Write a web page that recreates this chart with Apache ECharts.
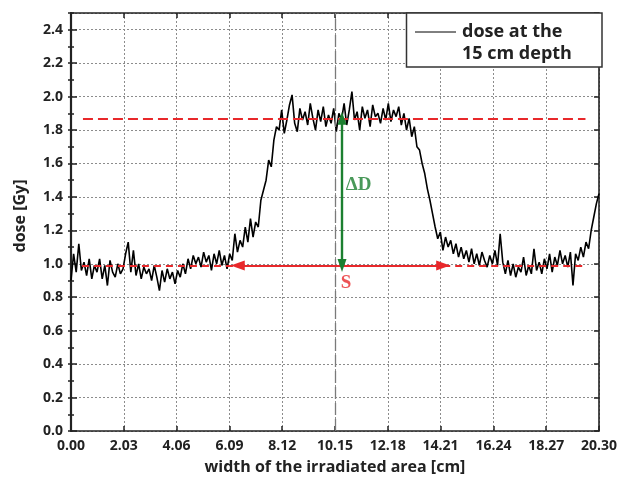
<!DOCTYPE html>
<html>
<head>
<meta charset="utf-8">
<script src="https://cdn.jsdelivr.net/npm/echarts@6/dist/echarts.min.js"></script>
<style>
html,body{margin:0;padding:0;background:#fff;}
#chart{width:620px;height:486px;}
</style>
</head>
<body>
<div id="chart"></div>
<script>
// ---- data ----
const doseX = [
 0.0,0.1,0.2,0.3,0.4,0.5,0.6,0.7,0.8,0.9,
 1.0,1.1,1.2,1.3,1.4,1.5,1.6,1.7,1.8,1.9,
 2.0,2.1,2.2,2.3,2.4,2.5,2.6,2.7,2.8,2.9,
 3.0,3.1,3.2,3.3,3.4,3.5,3.6,3.7,3.8,3.9,
 4.0,4.1,4.2,4.3,4.4,4.5,4.6,4.7,4.8,4.9,
 5.0,5.1,5.2,5.3,5.4,5.5,5.6,5.7,5.8,5.9,
 6.0,6.1,6.2,6.3,6.4,6.5,6.6,6.7,6.8,6.9,
 7.0,7.1,7.2,7.3,7.4,7.5,7.6,7.7,7.8,7.9,
 8.0,8.1,8.2,8.3,8.4,8.5,8.6,8.7,8.8,8.9,
 9.0,9.1,9.2,9.3,9.4,9.5,9.6,9.7,9.8,9.9,
 10.0,10.1,10.2,10.3,10.4,10.5,10.6,10.7,10.8,10.9,
 11.0,11.1,11.2,11.3,11.4,11.5,11.6,11.7,11.8,11.9,
 12.0,12.1,12.2,12.3,12.4,12.5,12.6,12.7,12.8,12.9,
 13.0,13.1,13.2,13.3,13.4,13.5,13.6,13.7,13.8,13.9,
 14.0,14.1,14.2,14.3,14.4,14.5,14.6,14.7,14.8,14.9,
 15.0,15.1,15.2,15.3,15.4,15.5,15.6,15.7,15.8,15.9,
 16.0,16.1,16.2,16.3,16.4,16.5,16.6,16.7,16.8,16.9,
 17.0,17.1,17.2,17.3,17.4,17.5,17.6,17.7,17.8,17.9,
 18.0,18.1,18.2,18.3,18.4,18.5,18.6,18.7,18.8,18.9,
 19.0,19.1,19.2,19.3,19.4,19.5,19.6,19.7,19.8,19.9,
 20.0,20.1,20.2,20.3
];
const doseY = [
 0.90,1.06,0.95,1.12,0.96,1.01,0.93,1.03,0.91,0.99,
 0.95,1.03,0.91,0.99,0.87,1.02,0.95,0.92,1.00,0.94,
 0.97,1.06,1.13,0.95,1.08,0.93,1.00,0.91,0.98,0.94,
 0.97,0.90,0.99,0.92,0.84,0.96,0.89,0.97,0.91,0.95,
 0.88,0.96,0.92,1.00,0.94,1.03,0.97,1.05,1.00,1.04,
 0.98,1.07,1.01,1.05,0.96,1.06,1.00,1.08,0.99,1.05,
 0.97,1.06,1.02,1.18,1.07,1.14,1.10,1.22,1.13,1.27,
 1.16,1.25,1.22,1.38,1.44,1.50,1.62,1.58,1.74,1.82,
 1.80,1.92,1.78,1.86,1.95,2.01,1.84,1.79,1.93,1.86,
 1.91,1.83,1.96,1.87,1.80,1.92,1.85,1.94,1.82,1.89,
 1.84,1.93,1.79,1.90,1.86,1.96,1.83,1.92,2.03,1.86,
 1.91,1.80,1.94,1.87,1.92,1.82,1.95,1.88,1.90,1.84,
 1.93,1.86,1.96,1.85,1.92,1.88,1.94,1.83,1.90,1.80,
 1.87,1.76,1.82,1.70,1.68,1.60,1.54,1.45,1.38,1.30,
 1.22,1.15,1.19,1.08,1.16,1.10,1.14,1.06,1.12,1.04,
 1.10,1.03,1.08,1.01,1.09,1.00,1.06,0.99,1.07,1.02,
 0.98,1.05,1.00,1.08,0.99,1.18,1.01,0.94,1.02,0.93,
 1.00,0.92,0.98,0.95,1.04,0.93,0.99,0.94,1.09,0.96,
 1.01,0.94,1.03,0.97,1.06,0.95,1.04,0.99,1.08,1.00,
 1.05,0.98,1.07,0.87,1.06,1.02,1.10,1.04,1.13,1.09,
 1.20,1.28,1.36,1.42
];
const xTickStep = 2.03;
const xMax = 20.3;
const yTickStep = 0.2;
const yMinorStep = 0.1;
const yMax = 2.5;

const refLevel = 1.87;          // red dashed upper level
const refFrom = 0.46, refTo = 19.78;
const baseLevel = 0.99;         // red dashed lower level / S arrow
const baseLeftFrom = 0.42, baseRightTo = 19.72;
const sFrom = 6.41, sTo = 14.31; // S arrow
const dDx = 10.42;               // ΔD arrow x
const centerX = 10.15;           // central dashed line

const annoX = [11.06, 10.57];
const annoY = [1.47, 0.885];
const annoText = ['ΔD', 'S'];
const annoColor = ['#1c8030', '#e8282b'];

const legendLines = ['dose at the', '15 cm depth'];
const xName = 'width of the irradiated area [cm]';
const yName = 'dose [Gy]';

// ---- chart ----
const RED = '#e8282b', GREEN = '#1c8030';
const FONT = '"Open Sans", "Noto Sans", sans-serif';
const chart = echarts.init(document.getElementById('chart'), null, {renderer: 'canvas'});

const gridLine = {show: true, lineStyle: {color: '#8c8c8c', width: 1, type: [2, 2]}};
const frame = {show: true, onZero: false, lineStyle: {color: '#222', width: 1.6}};

const profile = doseX.map((x, i) => [x, doseY[i]]);
const annos = annoX.map((x, i) => ({
  value: [x, annoY[i]],
  label: {show: true, formatter: annoText[i], color: annoColor[i]}
}));

const option = {
  animation: false,
  backgroundColor: '#fff',
  grid: {left: 71, right: 18, top: 13, bottom: 55, show: false},
  xAxis: [
    {
      type: 'value', position: 'bottom', min: 0, max: xMax, interval: xTickStep,
      name: xName, nameLocation: 'middle', nameGap: 28,
      nameTextStyle: {fontFamily: FONT, fontWeight: 'bold', fontSize: 16, color: '#222'},
      axisLine: frame,
      axisTick: {show: true, inside: true, length: 5, lineStyle: {color: '#222', width: 1.5}},
      axisLabel: {margin: 8, fontFamily: FONT, fontWeight: 'bold', fontSize: 14, color: '#222',
                  formatter: v => v.toFixed(2)},
      splitLine: gridLine
    },
    {
      type: 'value', position: 'top', min: 0, max: xMax, interval: xTickStep,
      axisLine: frame,
      axisTick: {show: true, inside: true, length: 5, lineStyle: {color: '#222', width: 1.5}},
      axisLabel: {show: false}, splitLine: {show: false}
    }
  ],
  yAxis: [
    {
      type: 'value', position: 'left', min: 0, max: yMax, interval: yTickStep,
      name: yName, nameLocation: 'middle', nameGap: 43, nameRotate: 90,
      nameTextStyle: {fontFamily: FONT, fontWeight: 'bold', fontSize: 16, color: '#222', padding: [0, 0, 0, 12]},
      axisLine: {show: true, onZero: false, lineStyle: {color: '#222', width: 2.2}},
      axisTick: {show: true, inside: true, length: 6, lineStyle: {color: '#222', width: 1.5}},
      axisLabel: {margin: 8, fontFamily: FONT, fontWeight: 'bold', fontSize: 14, color: '#222',
                  showMaxLabel: false, formatter: v => v.toFixed(1)},
      splitLine: gridLine
    },
    {
      type: 'value', position: 'left', min: 0, max: yMax, interval: yMinorStep,
      axisLine: {show: false},
      axisTick: {show: true, inside: true, length: 3, lineStyle: {color: '#222', width: 1.5}},
      axisLabel: {show: false}, splitLine: {show: false}
    },
    {
      type: 'value', position: 'right', min: 0, max: yMax, interval: yTickStep,
      axisLine: frame,
      axisTick: {show: true, inside: true, length: 5, lineStyle: {color: '#222', width: 1.5}},
      axisLabel: {show: false}, splitLine: {show: false}
    },
    {
      type: 'value', position: 'right', min: 0, max: yMax, interval: yMinorStep,
      axisLine: {show: false},
      axisTick: {show: true, inside: true, length: 3, lineStyle: {color: '#222', width: 1.5}},
      axisLabel: {show: false}, splitLine: {show: false}
    }
  ],
  series: [
    {
      // central dashed reference line
      type: 'line', data: [], z: 1, silent: true,
      markLine: {
        silent: true, symbol: 'none', animation: false, label: {show: false},
        lineStyle: {color: '#7a7a7a', width: 1.3, type: [12, 4]},
        data: [{xAxis: centerX}]
      }
    },
    {
      name: 'dose at the 15 cm depth', type: 'line', data: profile, z: 2,
      showSymbol: false, symbol: 'none', smooth: false,
      lineStyle: {color: '#000', width: 1.6}
    },
    {
      type: 'line', data: [], z: 3, silent: true,
      markLine: {
        silent: true, animation: false, label: {show: false},
        data: [
          [{coord: [refFrom, refLevel], symbol: 'none', lineStyle: {color: RED, width: 2, type: [10, 5]}},
           {coord: [refTo, refLevel], symbol: 'none'}],
          [{coord: [baseLeftFrom, baseLevel], symbol: 'none', lineStyle: {color: RED, width: 2.2, type: [7, 5]}},
           {coord: [sFrom, baseLevel], symbol: 'none'}],
          [{coord: [sTo, baseLevel], symbol: 'none', lineStyle: {color: RED, width: 2.2, type: [7, 5]}},
           {coord: [baseRightTo, baseLevel], symbol: 'none'}],
          [{coord: [sFrom, baseLevel], symbol: 'triangle', symbolSize: [10, 14], lineStyle: {color: RED, width: 2, type: 'solid'}},
           {coord: [sTo, baseLevel], symbol: 'triangle', symbolSize: [10, 14]}],
          [{coord: [dDx, refLevel], symbol: 'triangle', symbolSize: [9, 13], lineStyle: {color: GREEN, width: 2.4, type: 'solid'}, itemStyle: {color: GREEN}},
           {coord: [dDx, baseLevel], symbol: 'triangle', symbolSize: [9, 13], itemStyle: {color: GREEN}}]
        ]
      }
    },
    {
      type: 'scatter', data: annos, symbolSize: 0, z: 4, silent: true,
      label: {show: true, position: 'inside', fontFamily: '"Liberation Serif", "DejaVu Serif", serif',
              fontWeight: 'bold', fontSize: 19}
    }
  ],
  graphic: [
    {type: 'rect', z: 100, shape: {x: 406.5, y: 13, width: 195.5, height: 54},
     style: {fill: '#fff', stroke: '#333', lineWidth: 1.5}},
    {type: 'line', z: 101, shape: {x1: 415, y1: 32, x2: 456, y2: 32},
     style: {stroke: '#000', lineWidth: 1}},
    {type: 'text', z: 101, x: 462, y: 32,
     style: {text: legendLines[0], fontFamily: FONT, fontWeight: 'bold', fontSize: 18, fill: '#222', verticalAlign: 'middle'}},
    {type: 'text', z: 101, x: 462, y: 54,
     style: {text: legendLines[1], fontFamily: FONT, fontWeight: 'bold', fontSize: 18, fill: '#222', verticalAlign: 'middle'}}
  ]
};
chart.setOption(option);
</script>
</body>
</html>
